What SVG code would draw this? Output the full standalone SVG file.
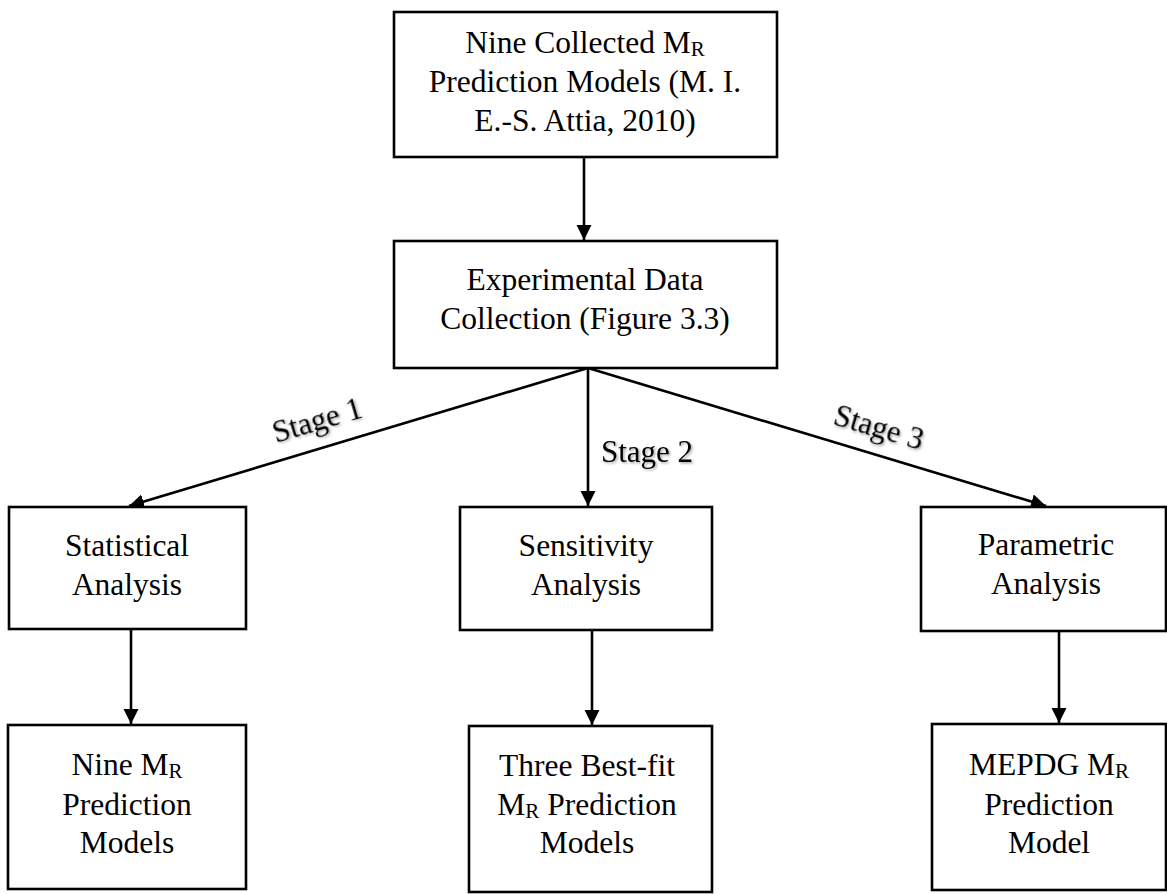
<svg xmlns="http://www.w3.org/2000/svg" width="1167" height="894" viewBox="0 0 1167 894">
<style>
.box{fill:#fff;stroke:#000;stroke-width:2.6}
.t{font-family:"Liberation Serif","Times New Roman",serif;font-size:31.5px;fill:#000;text-anchor:middle}
.sub{font-size:21px}
.lbl{font-family:"Liberation Serif","Times New Roman",serif;font-size:31px;fill:#000;text-anchor:middle}
.c{stroke:#000;stroke-width:2.6;fill:none;marker-end:url(#ah)}
</style>
<defs>
<marker id="ah" markerUnits="userSpaceOnUse" markerWidth="16" markerHeight="16" viewBox="0 0 16 16" refX="15" refY="8" orient="auto">
<path d="M0,0.5 L15,8 L0,15.5 Z" fill="#000"/>
</marker>
<filter id="sh" x="-10%" y="-30%" width="120%" height="160%">
<feDropShadow dx="1.5" dy="1.5" stdDeviation="1.2" flood-color="#000" flood-opacity="0.35"/>
</filter>
</defs>
<rect width="1167" height="894" fill="#fff"/>
<g id="connectors">
<line class="c" x1="584" y1="157" x2="584" y2="240"/>
<line class="c" x1="588" y1="368" x2="129" y2="506"/>
<line class="c" x1="588" y1="368" x2="588" y2="506"/>
<line class="c" x1="588" y1="368" x2="1046" y2="506"/>
<line class="c" x1="131" y1="629" x2="131" y2="724"/>
<line class="c" x1="592" y1="630" x2="592" y2="725"/>
<line class="c" x1="1059" y1="631" x2="1059" y2="723"/>
<text class="lbl" filter="url(#sh)" transform="translate(320,430) rotate(-16.5)">Stage 1</text>
<text class="lbl" filter="url(#sh)" x="647" y="462">Stage 2</text>
<text class="lbl" filter="url(#sh)" transform="translate(876,437) rotate(16.5)">Stage 3</text>
</g>
<g id="n1">
<rect class="box" x="394" y="12" width="383" height="145"/>
<text class="t" x="585" y="53">Nine Collected M<tspan class="sub" dy="3">R</tspan></text>
<text class="t" x="585" y="92">Prediction Models (M. I.</text>
<text class="t" x="585" y="131">E.-S. Attia, 2010)</text>
</g>
<g id="n2">
<rect class="box" x="394" y="241" width="383" height="127"/>
<text class="t" x="585" y="290">Experimental Data</text>
<text class="t" x="585" y="329">Collection (Figure 3.3)</text>
</g>
<g id="n3">
<rect class="box" x="9" y="507" width="237" height="122"/>
<text class="t" x="127" y="556">Statistical</text>
<text class="t" x="127" y="595">Analysis</text>
</g>
<g id="n4">
<rect class="box" x="460" y="507" width="252" height="123"/>
<text class="t" x="586" y="556">Sensitivity</text>
<text class="t" x="586" y="595">Analysis</text>
</g>
<g id="n5">
<rect class="box" x="921" y="507" width="245" height="124"/>
<text class="t" x="1046" y="555">Parametric</text>
<text class="t" x="1046" y="594">Analysis</text>
</g>
<g id="n6">
<rect class="box" x="8" y="725" width="238" height="164"/>
<text class="t" x="127" y="775">Nine M<tspan class="sub" dy="3">R</tspan></text>
<text class="t" x="127" y="815">Prediction</text>
<text class="t" x="127" y="853">Models</text>
</g>
<g id="n7">
<rect class="box" x="469" y="726" width="243" height="166"/>
<text class="t" x="587" y="776">Three Best-fit</text>
<text class="t" x="587" y="815">M<tspan class="sub" dy="3">R</tspan><tspan dy="-3"> Prediction</tspan></text>
<text class="t" x="587" y="853">Models</text>
</g>
<g id="n8">
<rect class="box" x="932" y="724" width="234" height="166"/>
<text class="t" x="1049" y="775">MEPDG M<tspan class="sub" dy="3">R</tspan></text>
<text class="t" x="1049" y="815">Prediction</text>
<text class="t" x="1049" y="853">Model</text>
</g>
</svg>
